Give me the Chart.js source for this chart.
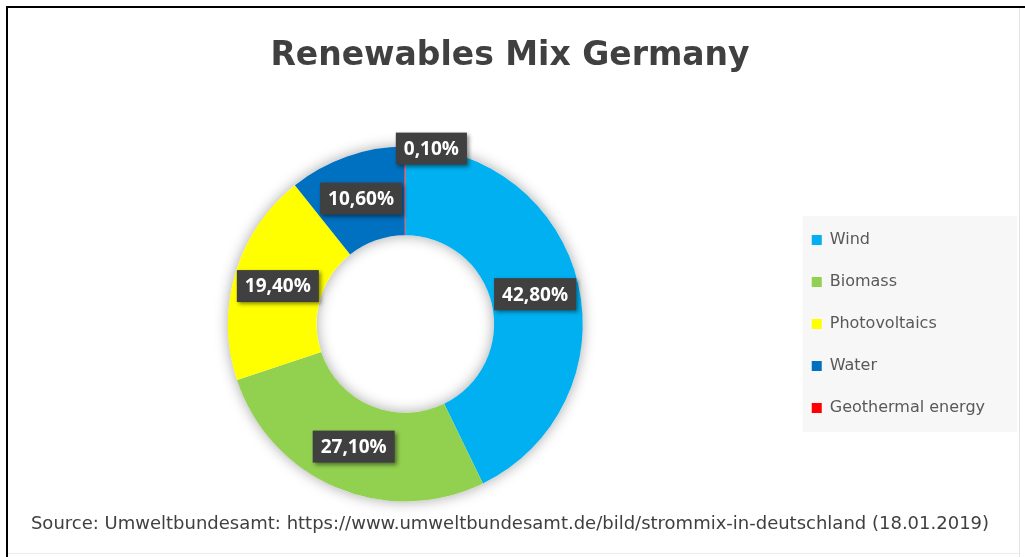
<!DOCTYPE html>
<html>
<head>
<meta charset="utf-8">
<title>Renewables Mix Germany</title>
<script src="https://cdn.jsdelivr.net/npm/chart.js@4.4.1/dist/chart.umd.min.js"></script>
<style>
  html, body { margin: 0; padding: 0; background: #fff; }
  #wrap { position: relative; width: 1025px; height: 557px; overflow: hidden; }
  .line { position: absolute; }
  #topLine { left: 6px; top: 6px; width: 1019px; height: 2px; background: #000; }
  #leftLine { left: 6px; top: 6px; width: 2px; height: 551px; background: #000; }
  #rightLine { left: 1019px; top: 8px; width: 1px; height: 549px; background: #e3e3e3; }
  #bottomLine { left: 8px; top: 553px; width: 1011px; height: 1px; background: #ececec; }
  canvas { position: absolute; left: 0; top: 0; }
</style>
</head>
<body>
<div id="wrap">
  <div class="line" id="topLine"></div>
  <div class="line" id="leftLine"></div>
  <div class="line" id="rightLine"></div>
  <div class="line" id="bottomLine"></div>
  <canvas id="mixChart" width="1025" height="557"></canvas>
</div>
<script>
// data (share of renewable power, %)
const categories = ["Wind", "Biomass", "Photovoltaics", "Water", "Geothermal energy"];
const shares = [42.8, 27.1, 19.4, 10.6, 0.1];
const sliceColors = ["#00b0f0", "#92d050", "#ffff00", "#0070c0", "#ff0000"];
const chartTitle = "Renewables Mix Germany";
const sourceNote = "Source: Umweltbundesamt: https://www.umweltbundesamt.de/bild/strommix-in-deutschland (18.01.2019)";

function formatShare(v) {
    return v.toFixed(2).replace(".", ",") + "%";
}

// soft shadow round the ring, drawn before the slices cover it
const ringShadow = {
    id: "ringShadow",
    beforeDatasetsDraw(chart) {
        const arc = chart.getDatasetMeta(0).data[0];
        if (!arc) return;
        const ctx = chart.ctx;
        ctx.save();
        ctx.shadowColor = "rgba(0,0,0,0.35)";
        ctx.shadowBlur = 14;
        ctx.fillStyle = "#ffffff";
        ctx.beginPath();
        ctx.arc(arc.x, arc.y, arc.outerRadius, 0, Math.PI * 2);
        ctx.arc(arc.x, arc.y, arc.innerRadius, 0, Math.PI * 2, true);
        ctx.fill();
        ctx.restore();
    }
};

// light panel behind the legend
const legendPanel = {
    id: "legendPanel",
    beforeDraw(chart) {
        const lg = chart.legend;
        if (!lg || !lg.legendHitBoxes.length) return;
        const boxes = lg.legendHitBoxes;
        const first = boxes[0];
        const last = boxes[boxes.length - 1];
        const ctx = chart.ctx;
        ctx.save();
        ctx.fillStyle = "#f7f7f7";
        const x = first.left - 9;
        ctx.fillRect(x, first.top - 16, 1017 - x, last.top + last.height + 16 - (first.top - 16));
        ctx.restore();
    }
};

// dark value boxes on the slices
const valueBoxes = {
    id: "valueBoxes",
    afterDatasetsDraw(chart) {
        const meta = chart.getDatasetMeta(0);
        const ctx = chart.ctx;
        ctx.save();
        ctx.font = "bold 19px 'Open Sans'";
        ctx.textAlign = "center";
        ctx.textBaseline = "middle";
        meta.data.forEach((arc, i) => {
            let {x, y} = arc.tooltipPosition();
            if (shares[i] < 1) {
                // tiny slice: label sits on the outer rim, nudged right
                x = arc.x + 26;
                y = arc.y - arc.outerRadius + 2;
            }
            const text = formatShare(shares[i]);
            const w = ctx.measureText(text).width + 16;
            const h = 32;
            ctx.shadowColor = "rgba(0,0,0,0.45)";
            ctx.shadowBlur = 4;
            ctx.shadowOffsetX = 2;
            ctx.shadowOffsetY = 2;
            ctx.fillStyle = "#404040";
            ctx.fillRect(x - w / 2, y - h / 2, w, h);
            ctx.shadowColor = "transparent";
            ctx.fillStyle = "#ffffff";
            ctx.fillText(text, x, y + 1);
        });
        ctx.restore();
    }
};

new Chart(document.getElementById("mixChart"), {
    type: "doughnut",
    data: {
        labels: categories,
        datasets: [{
            data: shares,
            backgroundColor: sliceColors,
            borderWidth: 0,
            hoverOffset: 0
        }]
    },
    options: {
        responsive: false,
        animation: false,
        events: [],
        cutout: "50%",
        layout: {
            padding: { left: 25, right: 30, top: 0, bottom: 0 }
        },
        plugins: {
            title: {
                display: true,
                text: chartTitle,
                color: "#404040",
                font: { family: "'DejaVu Sans'", size: 33, weight: "bold" },
                padding: { top: 37, bottom: 70 }
            },
            subtitle: {
                display: true,
                position: "bottom",
                text: sourceNote,
                color: "#404040",
                font: { family: "'DejaVu Sans'", size: 18 },
                padding: { top: 12, bottom: 22 }
            },
            legend: {
                position: "right",
                fullSize: false,
                labels: {
                    color: "#595959",
                    font: { family: "'DejaVu Sans'", size: 16 },
                    boxWidth: 10,
                    boxHeight: 10,
                    padding: 26
                }
            },
            tooltip: { enabled: false }
        }
    },
    plugins: [ringShadow, legendPanel, valueBoxes]
});
</script>
</body>
</html>
